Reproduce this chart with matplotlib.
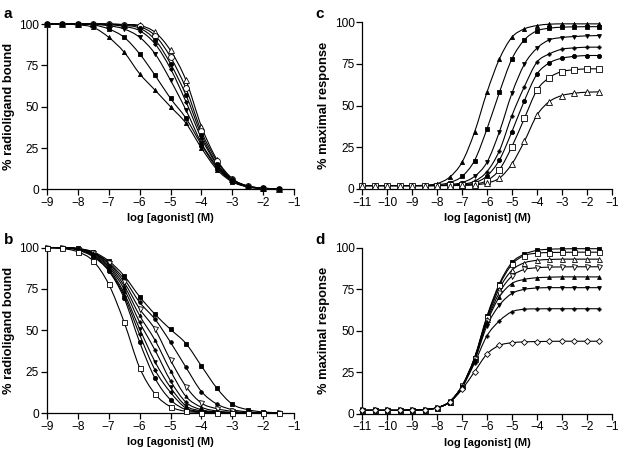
import matplotlib.pyplot as plt
from matplotlib.path import Path
from matplotlib.patches import PathPatch

plt.rcParams['font.family'] = ['Liberation Sans', 'DejaVu Sans']

# log [agonist] (M) where points were measured
log_bind = [-9, -8.5, -8, -7.5, -7, -6.5, -6, -5.5, -5, -4.5, -4, -3.5, -3, -2.5, -2, -1.5]
log_func = [-11, -10.5, -10, -9.5, -9, -8.5, -8, -7.5, -7, -6.5, -6, -5.5, -5, -4.5, -4,
            -3.5, -3, -2.5, -2, -1.5]

# panel a: % radioligand bound
a_open_tri = [100, 100, 100, 100, 100, 99.7, 99.2, 95, 84, 66, 38, 18, 6.5, 2, 0.7, 0.3]
a_open_circ = [100, 100, 100, 100, 100, 99.5, 98.5, 93, 80, 61, 35, 17, 6, 2, 0.7, 0.3]
a_circ = [100, 100, 100, 100, 99.8, 99.2, 97.5, 90.5, 76, 57, 33, 15.5, 6, 2, 0.6, 0.3]
a_dot = [100, 100, 100, 100, 99.7, 98.5, 96, 88, 73, 53, 31, 15, 5.5, 1.8, 0.6, 0.2]
a_inv_tri = [100, 100, 100, 99.7, 99, 97, 92, 82, 66, 48, 28, 14, 5, 1.7, 0.6, 0.2]
a_square = [100, 100, 100, 99.5, 97, 92, 82, 69, 55, 43, 27, 13, 5, 1.5, 0.5, 0.2]
a_tri = [100, 100, 99.5, 98, 92, 83, 70, 60, 50, 40, 25, 12, 4.5, 1.5, 0.5, 0.2]

# panel b: % radioligand bound
b_square = [100, 100, 99.5, 97.5, 92, 83, 70.4, 59.7, 50.6, 42, 28.4, 15, 5.3, 2, 0.6, 0.2]
b_circ = [100, 100, 99.5, 97, 91, 81, 67, 56.7, 42.8, 27.6, 13, 5.4, 2, 0.7, 0.2, 0.1]
b_open_inv = [100, 100, 99.4, 96.8, 90.5, 79, 63, 50.6, 32, 16, 6, 2.6, 1, 0.3, 0.1, 0.05]
b_tri = [100, 100, 99.3, 96.5, 89.5, 77, 59, 44, 25.5, 10, 3.5, 1.2, 0.4, 0.1, 0, 0]
b_plus = [100, 100, 99.2, 96, 88.5, 75, 55, 38, 19.5, 6.5, 2, 0.7, 0.2, 0.1, 0, 0]
b_inv_tri = [100, 100, 99.1, 95.5, 87.5, 72.5, 51, 31, 15.5, 4.3, 1.3, 0.4, 0.1, 0, 0, 0]
b_diamond = [100, 100, 99, 95, 86.5, 71, 47.5, 26, 12.5, 3, 0.9, 0.3, 0.1, 0, 0, 0]
b_circ2 = [100, 99.8, 98.5, 94.5, 86, 69.5, 43, 21, 8, 2, 0.6, 0.2, 0, 0, 0, 0]
b_open_sq = [100, 99.5, 97.5, 92, 78, 55, 27.5, 11.5, 3.8, 1, 0.3, 0.1, 0, 0, 0, 0]

# panel c: % maximal response
c_tri = [2, 2, 2, 2, 2, 2.2, 3.2, 7, 16, 34, 58, 78, 91, 96, 98, 98.8, 99, 99, 99, 99]
c_square = [2, 2, 2, 2, 2, 2, 2.4, 3.8, 7.5, 17, 36, 58, 78, 89.4, 94.8, 96.4, 97, 97.2, 97.3, 97.3]
c_inv_tri = [2, 2, 2, 2, 2, 2, 2.1, 2.6, 3.8, 7.5, 16, 34.4, 57.4, 74.8, 84.4, 89.4, 90.8, 91.4, 91.8, 92]
c_plus = [2, 2, 2, 2, 2, 2, 2, 2.3, 2.8, 4.6, 10.4, 23, 44, 61.4, 76, 81, 83.8, 84.6, 85, 85]
c_circ = [2, 2, 2, 2, 2, 2, 2, 2.2, 2.5, 3.6, 7.8, 17.4, 34.4, 53, 68.8, 75.6, 78.4, 79.5, 80, 80]
c_open_sq = [2, 2, 2, 2, 2, 2, 2, 2.1, 2.3, 2.8, 5, 11.6, 25.4, 42.4, 59.2, 66.8, 70.4, 71.5, 72, 72]
c_open_tri = [2, 2, 2, 2, 2, 2, 2, 2, 2.1, 2.4, 3.5, 6.5, 15, 28.6, 44.2, 52.4, 56, 57.4, 58, 58.2]

# panel d: % maximal response
d_square = [2, 2, 2, 2, 2.2, 2.5, 3.6, 7.2, 16.8, 33.8, 58.8, 78.5, 91.2, 96.2, 98.5, 99.2, 99.4, 99.5, 99.5, 99.5]
d_open_sq = [2, 2, 2, 2, 2.2, 2.5, 3.6, 7.2, 16.7, 33.6, 58.2, 77.5, 90, 95.4, 96.8, 97.2, 97.3, 97.4, 97.4, 97.4]
d_open_tri = [2, 2, 2, 2, 2.2, 2.5, 3.6, 7.2, 16.6, 33.2, 57.2, 75.5, 86.5, 91, 92.5, 93, 93.2, 93.2, 93.2, 93.2]
d_open_inv = [2, 2, 2, 2, 2.2, 2.5, 3.6, 7.1, 16.5, 32.8, 56, 73, 83, 87, 88, 88.4, 88.5, 88.6, 88.6, 88.6]
d_tri = [2, 2, 2, 2, 2.2, 2.5, 3.6, 7.1, 16.4, 32.4, 55, 70.5, 78.5, 81, 82, 82.3, 82.5, 82.5, 82.5, 82.5]
d_inv_tri = [2, 2, 2, 2, 2.2, 2.5, 3.6, 7, 16.2, 31.8, 53, 65.5, 72.5, 75, 75.8, 76, 76, 76, 76, 76]
d_plus = [2, 2, 2, 2, 2.2, 2.5, 3.6, 6.9, 15.8, 30.5, 47, 56, 61.5, 63, 63.2, 63.3, 63.3, 63.3, 63.3, 63.3]
d_open_dia = [2, 2, 2, 2, 2.2, 2.5, 3.5, 6.8, 14.7, 25.3, 36, 41.2, 42.8, 43.3, 43.5, 43.6, 43.7, 43.7, 43.7, 43.7]

# marker styles: (marker, filled, size)
panel_a = [(a_open_tri, ('^', False, 4)), (a_open_circ, ('o', False, 4.2)), (a_circ, ('o', True, 3)),
           (a_dot, ('D', True, 2)), (a_inv_tri, ('v', True, 3)), (a_square, ('s', True, 3)),
           (a_tri, ('^', True, 3))]
panel_b = [(b_square, ('s', True, 3)), (b_circ, ('o', True, 2.6)), (b_open_inv, ('v', False, 3.6)),
           (b_tri, ('^', True, 2.4)), (b_plus, ('P', True, 2.4)), (b_inv_tri, ('v', True, 2.6)),
           (b_diamond, ('D', True, 2)), (b_circ2, ('o', True, 3)), (b_open_sq, ('s', False, 3.6))]
panel_c = [(c_tri, ('^', True, 3)), (c_square, ('s', True, 3)), (c_inv_tri, ('v', True, 2.8)),
           (c_plus, ('P', True, 2.4)), (c_circ, ('o', True, 3)), (c_open_sq, ('s', False, 3.8)),
           (c_open_tri, ('^', False, 3.8))]
panel_d = [(d_square, ('s', True, 3)), (d_open_sq, ('s', False, 3.6)), (d_open_tri, ('^', False, 3.6)),
           (d_open_inv, ('v', False, 3.6)), (d_tri, ('^', True, 2.8)), (d_inv_tri, ('v', True, 2.8)),
           (d_plus, ('P', True, 2.4)), (d_open_dia, ('D', False, 3))]


def smooth_path(x, y):
    # Catmull-Rom segments through the data points, drawn as cubic Beziers
    n = len(x)
    verts = [(x[0], y[0])]
    codes = [Path.MOVETO]
    for i in range(n - 1):
        j0 = max(i - 1, 0)
        j3 = min(i + 2, n - 1)
        c1 = (x[i] + (x[i + 1] - x[j0]) / 6, y[i] + (y[i + 1] - y[j0]) / 6)
        c2 = (x[i + 1] - (x[j3] - x[i]) / 6, y[i + 1] - (y[j3] - y[i]) / 6)
        verts += [c1, c2, (x[i + 1], y[i + 1])]
        codes += [Path.CURVE4] * 3
    return Path(verts, codes)


def draw_panel(ax, x, curves, xticks, ylabel):
    for y, (m, filled, size) in curves:
        ax.add_patch(PathPatch(smooth_path(x, y), fill=False, edgecolor='black',
                               lw=0.8, clip_on=False, zorder=2))
        ax.plot(x, y, ls='none', marker=m, ms=size,
                mfc='black' if filled else 'white', mec='black', mew=0.6,
                clip_on=False, zorder=3)
    ax.set_xlim(xticks[0], xticks[-1])
    ax.set_ylim(0, 100)
    ax.set_xticks(xticks)
    ax.set_yticks([0, 25, 50, 75, 100])
    ax.spines['top'].set_visible(False)
    ax.spines['right'].set_visible(False)
    ax.spines['left'].set_linewidth(0.9)
    ax.spines['bottom'].set_linewidth(0.9)
    ax.tick_params(direction='out', length=4, width=0.9, labelsize=8.6, pad=1.5)
    ax.set_xlabel('log [agonist] (M)', fontsize=8, fontweight='bold')
    ax.set_ylabel(ylabel, fontsize=9.3, fontweight='bold')
    ax.xaxis.set_label_coords(0.5, -0.145)
    ax.yaxis.set_label_coords(-0.128, 0.5)


fig = plt.figure(figsize=(6.18, 4.53), dpi=100)

ax_a = fig.add_axes([0.0756, 0.582, 0.4006, 0.365])
ax_b = fig.add_axes([0.0756, 0.0883, 0.4006, 0.365])
ax_c = fig.add_axes([0.586, 0.583, 0.404, 0.368])
ax_d = fig.add_axes([0.586, 0.0868, 0.404, 0.366])

bind_ticks = [-9, -8, -7, -6, -5, -4, -3, -2, -1]
func_ticks = [-11, -10, -9, -8, -7, -6, -5, -4, -3, -2, -1]

draw_panel(ax_a, log_bind, panel_a, bind_ticks, '% radioligand bound')
draw_panel(ax_b, log_bind, panel_b, bind_ticks, '% radioligand bound')
draw_panel(ax_c, log_func, panel_c, func_ticks, '% maximal response')
draw_panel(ax_d, log_func, panel_d, func_ticks, '% maximal response')

for lab, (px, py) in zip('abcd', [(0.006, 0.985), (0.006, 0.485), (0.51, 0.985), (0.51, 0.485)]):
    fig.text(px, py, lab, fontsize=11, fontweight='bold', va='top', ha='left')

fig.savefig('out.png', dpi=100)
